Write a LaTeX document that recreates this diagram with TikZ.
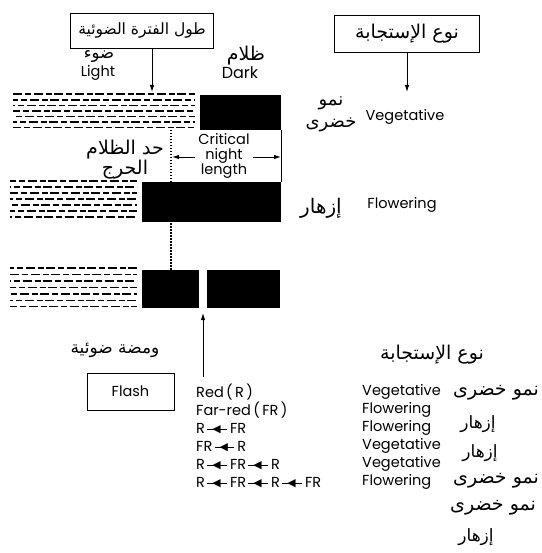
\documentclass[tikz,border=0pt]{standalone}
\usepackage{fontspec}
\usepackage{graphicx}
\setmainfont{Poppins}
\newfontfamily\arabicfont[Script=Arabic]{DejaVu Sans}
\newfontfamily\symfont{DejaVu Sans}
\TeXXeTstate=1
\usetikzlibrary{arrows.meta}
% Arabic text, right to left
\newcommand\ar[1]{{\arabicfont\beginR #1\endR}}
% font size shorthand
\newcommand\fs[1]{\fontsize{#1}{#1}\selectfont}
% small left-pointing arrow used inside the sequence labels
\newcommand\lar{\hspace{0.15em}\rule[0.45ex]{0.5em}{0.9pt}\hspace{-0.15em}\raisebox{0.12ex}{\scalebox{0.75}{\symfont ◀}}\hspace{-0.15em}\rule[0.45ex]{0.6em}{0.9pt}\hspace{0.2em}}
\begin{document}
\begin{tikzpicture}[x=1pt,y=-1pt,
  titlebox/.style={draw,line width=0.9pt,inner sep=0pt},
  lbl/.style={inner sep=0pt,font=\fs{14.5}},
  arlbl/.style={inner sep=0pt,font=\fs{18}},
  listtxt/.style={inner sep=0pt,align=left,font=\fontsize{14.5}{18}\selectfont},
  darkband/.style={fill=black},
  hatch/.style={line width=1.2pt},
  conn/.style={line width=0.9pt},
  tip/.style={-{Latex[length=7pt,width=4.5pt]}}]
\useasboundingbox (0,0) rectangle (541,553);

% heading boxes
\node[titlebox,minimum width=143pt,minimum height=35pt,font=\fs{15.5}] (photo) at (142,31) {\ar{طول الفترة الضوئية}};
\node[titlebox,minimum width=145pt,minimum height=37pt,font=\fs{19}] (resp) at (407,34) {\ar{نوع الإستجابة}};
\coordinate (pL) at (152,92);
\coordinate (pR) at (407,92);
\draw[conn,tip] (pL |- photo.south) -- (pL);
\draw[conn,tip] (pR |- resp.south) -- (pR);

% light / dark labels
\node[arlbl,font=\fs{16.5}] (ligAr) at (99,57) {\ar{ضوء}};
\node[lbl] (lig) at (98,73) {Light};
\node[arlbl,font=\fs{19}] (darAr) at (246,56) {\ar{ظلام}};
\node[lbl,font=\fs{16}] (dar) at (240,73) {Dark};

% row 1: light period and long dark period
\foreach \y/\p in {94/0,100/4,105.5/7,111/2,116.5/9,122/5,127.5/1}
  \draw[hatch,dash pattern=on 9pt off 3pt on 6pt off 2.5pt,dash phase=\p pt] (13,\y) -- (195,\y);
\fill[darkband] (200,95) rectangle (281,130);
\coordinate (d1r) at (281,130);

% row 2
\foreach \y/\p in {181/3,187/8,193/1,199/6,205/10,211/4,217/7}
  \draw[hatch,dash pattern=on 9pt off 3pt on 6pt off 2.5pt,dash phase=\p pt] (10,\y) -- (137,\y);
\fill[darkband] (142,182) rectangle (281,222);
\coordinate (d2r) at (281,182);

% row 3: dark period interrupted by a flash
\foreach \y/\p in {268/5,274.5/0,281/8,287.5/3,294/11,300.5/6,306.5/2}
  \draw[hatch,dash pattern=on 9pt off 3pt on 6pt off 2.5pt,dash phase=\p pt] (10,\y) -- (137,\y);
\fill[darkband] (142,270) rectangle (199,308);
\fill[darkband] (207,270) rectangle (280,308);

% critical night length
\coordinate (crTop) at (171,130);
\coordinate (crBot) at (171,270);
\draw[line width=1.2pt,dash pattern=on 1.5pt off 1.5pt] (crTop) -- (crBot);
\draw[conn] (d1r) -- (d2r);
\node[lbl,align=center,font=\fontsize{14.5}{15}\selectfont] (crit) at (224,156) {Critical\\night\\length};
\coordinate (cL) at (172,157);
\coordinate (cR) at (281,157);
\draw[conn,tip] (crit.west |- cL) ++(-3,0) -- (cL);
\draw[conn,tip] (crit.east |- cR) ++(3,0) -- (cR);
\node[arlbl,align=center,font=\fs{19}] (critAr) at (125,160) {\ar{حد الظلام}\\[1pt]\ar{الحرج}};

% responses beside rows 1 and 2
\node[arlbl,align=center] (vegAr) at (331,114) {\ar{نمو}\\[4pt]\ar{خضرى}};
\node[lbl] (veg) at (405,117) {Vegetative};
\node[arlbl,font=\fs{20}] (flwAr) at (321,208) {\ar{إزهار}};
\node[lbl] (flw) at (402,205) {Flowering};

% flash
\node[arlbl,font=\fs{17}] (flashAr) at (115,350) {\ar{ومضة ضوئية}};
\node[titlebox,minimum width=87pt,minimum height=37pt,lbl] (flash) at (130.5,391.5) {Flash};
\coordinate (fTip) at (203,313);
\coordinate (fBase) at (203,377);
\draw[conn,tip] (fBase) -- (fTip);

% bottom table
\node[arlbl,font=\fs{19}] (respAr) at (432,355) {\ar{نوع الإستجابة}};
\node[listtxt,anchor=north west] (seq) at (196,384) {Red\,(\,R\,)\\Far-red\,(\,FR\,)\\R\lar FR\\FR\lar R\\R\lar FR\lar R\\R\lar FR\lar R\lar FR};
\node[listtxt,anchor=north west] (res) at (362,384) {Vegetative\\Flowering\\Flowering\\Vegetative\\Vegetative\\Flowering};
\node[arlbl,font=\fs{19}] (r1) at (496,393) {\ar{نمو خضرى}};
\node[arlbl,font=\fs{17}] (r2) at (478,424) {\ar{إزهار}};
\node[arlbl,font=\fs{17}] (r3) at (480,453) {\ar{إزهار}};
\node[arlbl,font=\fs{19}] (r4) at (496,481) {\ar{نمو خضرى}};
\node[arlbl,font=\fs{19}] (r5) at (493,508) {\ar{نمو خضرى}};
\node[arlbl,font=\fs{17}] (r6) at (476,537) {\ar{إزهار}};
\end{tikzpicture}
\end{document}
